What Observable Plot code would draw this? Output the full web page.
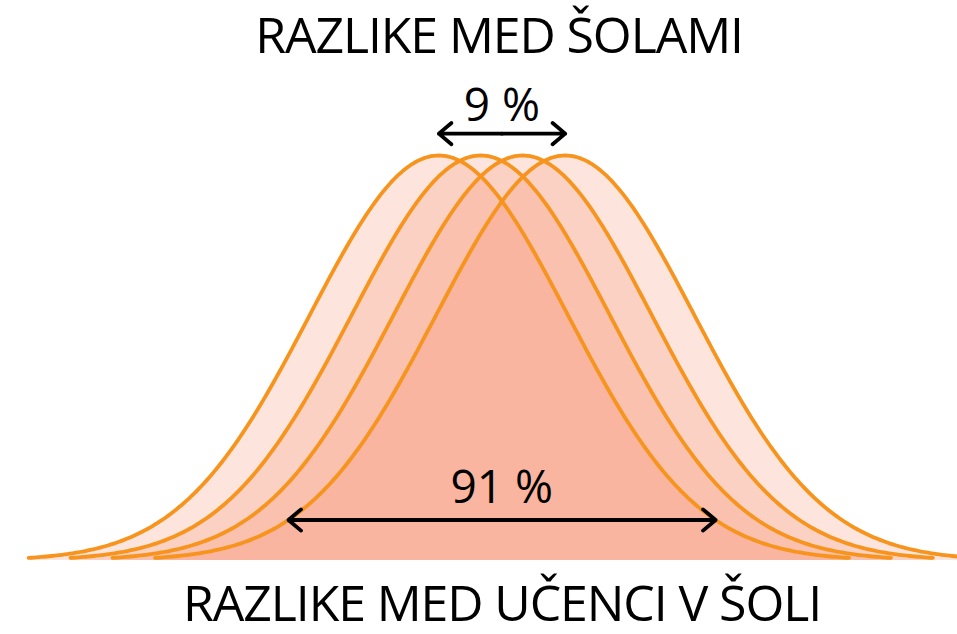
<!DOCTYPE html>
<html><head><meta charset="utf-8">
<script src="https://cdn.jsdelivr.net/npm/d3@7"></script>
<script src="https://cdn.jsdelivr.net/npm/@observablehq/plot@0.6"></script>
<style>body{margin:0;background:#fff} svg{display:block}</style>
</head><body><div id="chart"></div>
<script>
// School mean positions (in student-level standard deviations)
const schoolMeans = [-0.49, -0.165, 0.16, 0.49];
const sigma = 1;
const tailExtent = 3.18;          // curves drawn out to ±3.18 σ
const withinArrowLevel = 0.1;     // relative height where the 91 % arrow sits
const titleText = "RAZLIKE MED ŠOLAMI";
const captionText = "RAZLIKE MED UČENCI V ŠOLI";
const betweenLabel = "9 %";
const withinLabel = "91 %";

const curves = [];
schoolMeans.forEach((m, i) => {
  for (let t = -tailExtent; t <= tailExtent + 1e-9; t += 0.02) {
    curves.push({school: i, x: m + t * sigma, y: Math.exp(-(t * t) / 2)});
  }
});

const minM = d3.min(schoolMeans), maxM = d3.max(schoolMeans), midM = d3.mean(schoolMeans);
const halfW = sigma * Math.sqrt(-2 * Math.log(withinArrowLevel));
const betweenY = 1.054;
const withinMid = ((maxM - halfW) + (minM + halfW)) / 2;
const arrows = [
  {x1: midM, x2: minM, y: betweenY}, {x1: midM, x2: maxM, y: betweenY},
  {x1: withinMid, x2: maxM - halfW, y: withinArrowLevel},
  {x1: withinMid, x2: minM + halfW, y: withinArrowLevel}
];

const font = "'Open Sans', sans-serif";
const chart = Plot.plot({
  width: 957, height: 634,
  marginTop: 155, marginBottom: 74, marginLeft: 0, marginRight: 0,
  x: {domain: [-3.888, 3.531], axis: null},
  y: {domain: [0, 1], axis: null},
  style: {fontFamily: font, background: "#fff"},
  marks: [
    Plot.areaY(curves, {x: "x", y: "y", z: "school", fill: "#f58e6e", fillOpacity: 0.23}),
    Plot.lineY(curves, {x: "x", y: "y", z: "school", stroke: "#f7941d", strokeWidth: 3.8, strokeLinecap: "round"}),
    Plot.arrow(arrows, {x1: "x1", x2: "x2", y1: "y", y2: "y", stroke: "#000", strokeWidth: 3.8, headLength: 6.5, headAngle: 80, inset: 0}),
    Plot.text([titleText], {x: 0, frameAnchor: "top", dy: -103, dx: -3, lineAnchor: "bottom", text: d => d, fontSize: 50, fill: "#000"}),
    Plot.text([captionText], {x: 0, frameAnchor: "bottom", dy: 60, lineAnchor: "bottom", text: d => d, fontSize: 50, fill: "#000"}),
    Plot.text([betweenLabel], {x: midM, y: 1.086, lineAnchor: "bottom", text: d => d, fontSize: 46, fill: "#000"}),
    Plot.text([withinLabel], {x: midM, y: 0.141, lineAnchor: "bottom", text: d => d, fontSize: 46, fill: "#000"})
  ]
});
chart.querySelectorAll("text").forEach(t => t.setAttribute("letter-spacing", t.textContent.startsWith("RAZLIKE") ? "-1.1" : "0"));
document.getElementById("chart").appendChild(chart);
</script></body></html>
